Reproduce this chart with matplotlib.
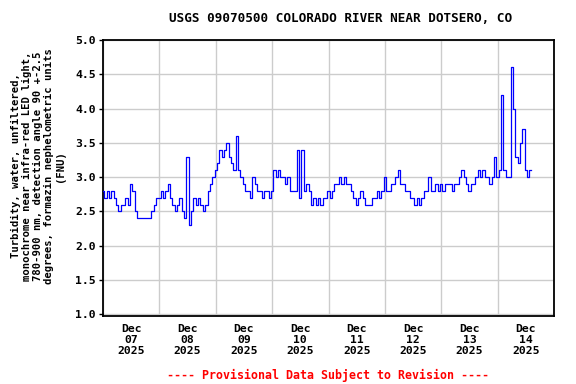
import matplotlib
matplotlib.use("Agg")
import matplotlib.pyplot as plt
import matplotlib.dates as mdates
import numpy as np
import pandas as pd

title = "USGS 09070500 COLORADO RIVER NEAR DOTSERO, CO"
ylabel = ("Turbidity, water, unfiltered,\nmonochrome near infra-red LED light,\n"
          "780-900 nm, detection angle 90 +-2.5\ndegrees, formazin nephelometric units\n(FNU)")
footer = "---- Provisional Data Subject to Revision ----"
start_time = "2025-12-07 00:00"

# hourly turbidity values (FNU)
day1 = [2.8, 2.7, 2.8, 2.7, 2.8, 2.7, 2.6, 2.5, 2.6, 2.6, 2.7, 2.6, 2.9, 2.8, 2.5, 2.4, 2.4, 2.4, 2.4, 2.4, 2.4, 2.5, 2.6, 2.7]
day2 = [2.7, 2.8, 2.7, 2.8, 2.9, 2.7, 2.6, 2.5, 2.6, 2.7, 2.5, 2.4, 3.3, 2.3, 2.5, 2.7, 2.6, 2.7, 2.6, 2.5, 2.6, 2.8, 2.9, 3.0]
day3 = [3.1, 3.2, 3.4, 3.3, 3.4, 3.5, 3.3, 3.2, 3.1, 3.6, 3.1, 3.0, 2.9, 2.8, 2.8, 2.7, 3.0, 2.9, 2.8, 2.8, 2.7, 2.8, 2.8, 2.7]
day4 = [2.8, 3.1, 3.0, 3.1, 3.0, 3.0, 2.9, 3.0, 2.8, 2.8, 2.8, 3.4, 2.7, 3.4, 2.8, 2.9, 2.8, 2.6, 2.7, 2.6, 2.7, 2.6, 2.7, 2.7]
day5 = [2.8, 2.7, 2.8, 2.9, 2.9, 3.0, 2.9, 3.0, 2.9, 2.9, 2.8, 2.7, 2.6, 2.7, 2.8, 2.7, 2.6, 2.6, 2.6, 2.7, 2.7, 2.8, 2.7, 2.8]
day6 = [3.0, 2.8, 2.8, 2.9, 2.9, 3.0, 3.1, 2.9, 2.9, 2.8, 2.8, 2.7, 2.7, 2.6, 2.7, 2.6, 2.7, 2.8, 2.8, 3.0, 2.8, 2.8, 2.9, 2.8]
day7 = [2.9, 2.8, 2.9, 2.9, 2.9, 2.8, 2.9, 2.9, 3.0, 3.1, 3.0, 2.9, 2.8, 2.9, 2.9, 3.0, 3.1, 3.0, 3.1, 3.0, 3.0, 2.9, 3.0, 3.3]
day8 = [3.0, 3.1, 4.2, 3.1, 3.0, 3.0, 4.6, 4.0, 3.3, 3.2, 3.5, 3.7, 3.1, 3.0, 3.1]
values = day1 + day2 + day3 + day4 + day5 + day6 + day7 + day8
times = pd.date_range(start_time, periods=len(values), freq="h")

yticks = [1.0, 1.5, 2.0, 2.5, 3.0, 3.5, 4.0, 4.5, 5.0]

plt.rcParams["font.family"] = ["DejaVu Sans Mono"]
plt.rcParams["font.weight"] = "bold"

fig = plt.figure(figsize=(5.76, 3.84), dpi=100)
ax = fig.add_axes([103/576, 1-316/384, (554-103)/576, (316-39.5)/384])

ax.plot(times, values, color="#0000ff", lw=0.9, drawstyle="steps-mid", zorder=3)

ax.set_xlim(pd.Timestamp("2025-12-07 00:00"), pd.Timestamp("2025-12-15 00:00"))
ax.set_ylim(0.975, 5.007)
ax.set_yticks(yticks)
ax.set_yticklabels([f"{v:.1f}" for v in yticks], fontsize=8.2, fontweight="bold")

ax.xaxis.set_major_locator(mdates.HourLocator(byhour=[12]))
ax.xaxis.set_major_formatter(mdates.DateFormatter("%b\n%d\n%Y"))
ax.xaxis.set_minor_locator(mdates.DayLocator())
ax.tick_params(axis="x", which="major", length=0, pad=6, labelsize=8.2)
ax.tick_params(axis="x", which="minor", length=0)
ax.tick_params(axis="y", length=3, width=1, pad=2)
for lab in ax.get_xticklabels():
    lab.set_fontweight("bold")
    lab.set_linespacing(1.1)

ax.grid(True, axis="y", which="major", color="#cccccc", lw=1.0, zorder=1)
ax.grid(True, axis="x", which="minor", color="#cccccc", lw=1.0, zorder=1)
ax.grid(False, axis="x", which="major")
for s in ax.spines.values():
    s.set_linewidth(1.3)
    s.set_color("black")

fig.text(341/576, 1-19/384, title, ha="center", va="center", fontsize=9.1, fontweight="bold")
fig.text(38/576, 1-166/384, ylabel, ha="center", va="center", rotation=90,
         fontsize=7.6, fontweight="bold", multialignment="center", linespacing=1.15)
fig.text(328/576, 1-375/384, footer, ha="center", va="center", fontsize=8.4,
         fontweight="bold", color="#ff0000")

fig.savefig("out.png", dpi=100)
